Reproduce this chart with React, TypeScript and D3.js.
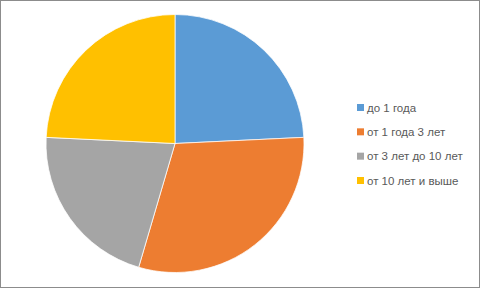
import React from "react";
import * as d3 from "d3";

const categories = ["до 1 года", "от 1 года 3 лет", "от 3 лет до 10 лет", "от 10 лет и выше"];
const values = [8, 10, 7, 8];
const colors = ["#5B9BD5", "#ED7D31", "#A5A5A5", "#FFC000"];

const W = 481;
const H = 289;

export default function App() {
  const cx = 175;
  const cy = 143.5;
  const r = 129;

  const pie = d3
    .pie<number>()
    .sort(null)
    .value((d) => d);
  const arcs = pie(values);
  const arc = d3.arc<d3.PieArcDatum<number>>().innerRadius(0).outerRadius(r);

  const legendX = 357;
  const legendY = d3
    .scalePoint<string>()
    .domain(categories)
    .range([107.5, 180.5]);

  return (
    <svg
      width={W}
      height={H}
      style={{ position: "absolute", left: 0, top: 0, background: "#fff" }}
    >
      <rect x={0.5} y={0.5} width={W - 2} height={H - 2} fill="#fff" stroke="#8c8c8c" strokeWidth={1} />
      <g transform={`translate(${cx},${cy})`}>
        {arcs.map((a, i) => (
          <path key={i} d={arc(a) || ""} fill={colors[i]} stroke="#fff" strokeWidth={0.75} />
        ))}
      </g>
      <g fontFamily="'Liberation Sans', Arial, sans-serif" fontSize={11.5} fill="#595959">
        {categories.map((c, i) => (
          <g key={c} transform={`translate(${legendX},${legendY(c)})`}>
            <rect x={0} y={-3.5} width={7} height={7} fill={colors[i]} />
            <text x={10} y={4}>{c}</text>
          </g>
        ))}
      </g>
    </svg>
  );
}
